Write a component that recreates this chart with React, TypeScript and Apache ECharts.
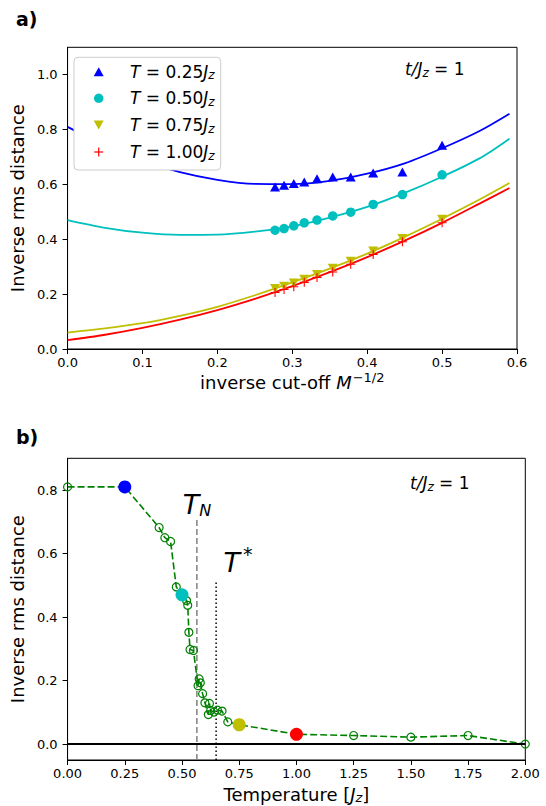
import React, { useEffect, useRef } from 'react';
import * as echarts from 'echarts';

// ---------- Panel a data ----------
const cutoffX = [0.277, 0.289, 0.302, 0.316, 0.333, 0.354, 0.378, 0.408, 0.447, 0.5];
const t025 = [0.591, 0.597, 0.603, 0.609, 0.621, 0.627, 0.627, 0.642, 0.645, 0.743];
const t050 = [0.433, 0.439, 0.449, 0.46, 0.47, 0.485, 0.499, 0.527, 0.563, 0.635];
const t075 = [0.221, 0.229, 0.241, 0.254, 0.272, 0.294, 0.32, 0.357, 0.403, 0.473];
const t100 = [0.206, 0.217, 0.227, 0.243, 0.261, 0.281, 0.309, 0.345, 0.391, 0.46];

const fitX = [0, 0.05, 0.1, 0.15, 0.2, 0.25, 0.3, 0.35, 0.4, 0.45, 0.5, 0.55, 0.59];
const fit025 = [0.81, 0.742, 0.687, 0.645, 0.617, 0.602, 0.601, 0.613, 0.639, 0.677, 0.732, 0.795, 0.858];
const fit050 = [0.47, 0.442, 0.424, 0.416, 0.417, 0.428, 0.447, 0.479, 0.518, 0.569, 0.628, 0.695, 0.767];
const fit075 = [0.06, 0.075, 0.094, 0.121, 0.154, 0.196, 0.243, 0.293, 0.348, 0.409, 0.475, 0.545, 0.605];
const fit100 = [0.032, 0.052, 0.077, 0.107, 0.142, 0.183, 0.229, 0.28, 0.335, 0.395, 0.46, 0.53, 0.587];

const aXTicks = [0, 0.1, 0.2, 0.3, 0.4, 0.5, 0.6];
const aYTicks = [0, 0.2, 0.4, 0.6, 0.8, 1.0];

// ---------- Panel b data ----------
const tempT = [0, 0.25, 0.4, 0.425, 0.45, 0.475, 0.5, 0.52, 0.525, 0.53, 0.535, 0.55, 0.57, 0.575, 0.58, 0.59, 0.6, 0.615, 0.62, 0.625, 0.64, 0.655, 0.675, 0.7, 0.75, 1.0, 1.25, 1.5, 1.75, 2.0];
const tempVal = [0.81, 0.81, 0.682, 0.65, 0.638, 0.495, 0.47, 0.452, 0.437, 0.352, 0.298, 0.295, 0.184, 0.205, 0.193, 0.159, 0.13, 0.093, 0.128, 0.106, 0.101, 0.107, 0.104, 0.07, 0.061, 0.031, 0.027, 0.022, 0.027, 0.0];
const highlightT = [0.25, 0.5, 0.75, 1.0];
const highlightVal = [0.81, 0.47, 0.061, 0.031];
const tN = 0.565;
const tNTop = 0.709;
const tStar = 0.649;
const tStarTop = 0.517;
const bXTicks = [0, 0.25, 0.5, 0.75, 1.0, 1.25, 1.5, 1.75, 2.0];
const bYTicks = [0, 0.2, 0.4, 0.6, 0.8];

const BLUE = '#0000ff';
const CYAN = '#00bfbf';
const YEL = '#bfbf00';
const RED = '#ff0000';
const GREEN = '#008000';
const FONT = 'DejaVu Sans';
const highlightColors = [BLUE, CYAN, YEL, RED];

const PLUS = 'path://M4.4,0H5.6V4.4H10V5.6H5.6V10H4.4V5.6H0V4.4H4.4Z';
const TRI_DOWN = 'path://M0,0L10,0L5,9Z';

const zip = (xs: number[], ys: number[]) => xs.map((x, i) => [x, ys[i]]);

const subRich = {
  i: { fontStyle: 'italic', fontFamily: FONT, fontSize: 17, color: '#000' },
  s: { fontStyle: 'italic', fontFamily: FONT, fontSize: 12, color: '#000', padding: [7, 0, 0, 0] },
  n: { fontFamily: FONT, fontSize: 17, color: '#000' },
};

function axisCommon(gridIndex: number) {
  return {
    gridIndex,
    type: 'value',
    splitLine: { show: false },
    axisLine: { show: true, onZero: false, lineStyle: { color: '#000', width: 1 } },
    axisTick: { show: true, inside: false, length: 5, lineStyle: { color: '#000', width: 1 } },
  };
}

function buildOption() {
  const legendRows = [
    { y: 71.7, label: '0.25' },
    { y: 98.3, label: '0.50' },
    { y: 125, label: '0.75' },
    { y: 152, label: '1.00' },
  ];
  const mx = 98.7;
  const graphic: any[] = [
    { type: 'text', style: { text: 'a)', x: 16, y: 19, verticalAlign: 'middle', fontSize: 19, fontWeight: 'bold', fontFamily: FONT, fill: '#000' } },
    { type: 'text', style: { text: 'b)', x: 16, y: 437, verticalAlign: 'middle', fontSize: 19, fontWeight: 'bold', fontFamily: FONT, fill: '#000' } },
    { type: 'text', style: { text: '{i|t/J}{s|z}{n| = 1}', x: 405, y: 69, verticalAlign: 'middle', rich: subRich } },
    { type: 'text', style: { text: '{i|t/J}{s|z}{n| = 1}', x: 410, y: 483, verticalAlign: 'middle', rich: subRich } },
    { type: 'rect', shape: { x: 74, y: 57.3, width: 146.7, height: 112.7, r: 4 }, style: { fill: '#ffffff', stroke: '#cccccc', lineWidth: 1 }, z: 50 },
    { type: 'polygon', shape: { points: [[mx - 5, legendRows[0].y + 4.5], [mx + 5, legendRows[0].y + 4.5], [mx, legendRows[0].y - 4.5]] }, style: { fill: BLUE }, z: 51 },
    { type: 'circle', shape: { cx: mx, cy: legendRows[1].y, r: 4.7 }, style: { fill: CYAN }, z: 51 },
    { type: 'polygon', shape: { points: [[mx - 5, legendRows[2].y - 4.5], [mx + 5, legendRows[2].y - 4.5], [mx, legendRows[2].y + 4.5]] }, style: { fill: YEL }, z: 51 },
    { type: 'line', shape: { x1: mx - 4.5, y1: legendRows[3].y, x2: mx + 4.5, y2: legendRows[3].y }, style: { stroke: RED, lineWidth: 1.2 }, z: 51 },
    { type: 'line', shape: { x1: mx, y1: legendRows[3].y - 4.5, x2: mx, y2: legendRows[3].y + 4.5 }, style: { stroke: RED, lineWidth: 1.2 }, z: 51 },
  ];
  legendRows.forEach((r) => {
    graphic.push({
      type: 'text',
      z: 51,
      style: { text: `{i|T}{n| = ${r.label}}{i|J}{s|z}`, x: 130, y: r.y, verticalAlign: 'middle', rich: subRich },
    });
  });

  const tickLabel = { fontFamily: FONT, fontSize: 13, color: '#000' };
  const nameStyle = { fontFamily: FONT, fontSize: 18, color: '#000' };

  return {
    animation: false,
    backgroundColor: '#fff',
    textStyle: { fontFamily: FONT },
    grid: [
      { left: 64.5, top: 47.3, width: 452.5, height: 301.7, show: true, borderColor: '#000', borderWidth: 1, containLabel: false },
      { left: 64, top: 458.3, width: 461.3, height: 301.7, show: true, borderColor: '#000', borderWidth: 1, containLabel: false },
    ],
    xAxis: [
      {
        ...axisCommon(0),
        min: 0, max: 0.6, interval: 0.1,
        axisLabel: { ...tickLabel, margin: 7, customValues: aXTicks, formatter: (v: number) => v.toFixed(1) },
        axisTick: { show: true, length: 5, lineStyle: { color: '#000' }, customValues: aXTicks },
        name: 'inverse cut-off {i|M}{sup|\u22121/2}',
        nameLocation: 'middle',
        nameGap: 22,
        nameTextStyle: { ...nameStyle, rich: { i: { ...nameStyle, fontStyle: 'italic' }, sup: { fontFamily: FONT, fontSize: 13, color: '#000', padding: [0, 0, 9, 1] } } },
      },
      {
        ...axisCommon(1),
        min: 0, max: 2, interval: 0.25,
        axisLabel: { ...tickLabel, margin: 7, customValues: bXTicks, formatter: (v: number) => v.toFixed(2) },
        axisTick: { show: true, length: 5, lineStyle: { color: '#000' }, customValues: bXTicks },
        name: 'Temperature [{i|J}{s|z}]',
        nameLocation: 'middle',
        nameGap: 24,
        nameTextStyle: { ...nameStyle, rich: { i: { ...nameStyle, fontStyle: 'italic' }, s: { fontFamily: FONT, fontSize: 13, fontStyle: 'italic', color: '#000', padding: [7, 0, 0, 0] } } },
      },
    ],
    yAxis: [
      {
        ...axisCommon(0),
        min: 0, max: 1.1, interval: 0.2,
        axisLabel: { ...tickLabel, margin: 10, customValues: aYTicks, formatter: (v: number) => v.toFixed(1) },
        axisTick: { show: true, length: 5, lineStyle: { color: '#000' }, customValues: aYTicks },
        name: 'Inverse rms distance',
        nameLocation: 'middle',
        nameGap: 36,
        nameTextStyle: nameStyle,
      },
      {
        ...axisCommon(1),
        min: -0.05, max: 0.9,
        axisLabel: { ...tickLabel, margin: 10, customValues: bYTicks, formatter: (v: number) => v.toFixed(1) },
        axisTick: { show: true, length: 5, lineStyle: { color: '#000' }, customValues: bYTicks },
        name: 'Inverse rms distance',
        nameLocation: 'middle',
        nameGap: 36,
        nameTextStyle: nameStyle,
      },
    ],
    graphic,
    series: [
      // fits
      { type: 'line', name: 'fit 0.25', xAxisIndex: 0, yAxisIndex: 0, data: zip(fitX, fit025), smooth: 0.3, showSymbol: false, lineStyle: { color: BLUE, width: 1.8 }, z: 2 },
      { type: 'line', name: 'fit 0.50', xAxisIndex: 0, yAxisIndex: 0, data: zip(fitX, fit050), smooth: 0.3, showSymbol: false, lineStyle: { color: CYAN, width: 1.8 }, z: 2 },
      { type: 'line', name: 'fit 0.75', xAxisIndex: 0, yAxisIndex: 0, data: zip(fitX, fit075), smooth: 0.3, showSymbol: false, lineStyle: { color: YEL, width: 1.8 }, z: 2 },
      { type: 'line', name: 'fit 1.00', xAxisIndex: 0, yAxisIndex: 0, data: zip(fitX, fit100), smooth: 0.3, showSymbol: false, lineStyle: { color: RED, width: 1.8 }, z: 2 },
      // data
      { type: 'scatter', name: 'T = 0.25Jz', xAxisIndex: 0, yAxisIndex: 0, data: zip(cutoffX, t025), symbol: 'triangle', symbolSize: [10, 9], itemStyle: { color: BLUE, opacity: 1 }, z: 3 },
      { type: 'scatter', name: 'T = 0.50Jz', xAxisIndex: 0, yAxisIndex: 0, data: zip(cutoffX, t050), symbol: 'circle', symbolSize: 9.5, itemStyle: { color: CYAN, opacity: 1 }, z: 3 },
      { type: 'scatter', name: 'T = 0.75Jz', xAxisIndex: 0, yAxisIndex: 0, data: zip(cutoffX, t075), symbol: TRI_DOWN, symbolSize: [10, 9], itemStyle: { color: YEL, opacity: 1 }, z: 3 },
      { type: 'scatter', name: 'T = 1.00Jz', xAxisIndex: 0, yAxisIndex: 0, data: zip(cutoffX, t100), symbol: PLUS, symbolSize: 9, itemStyle: { color: RED, opacity: 1 }, z: 3 },
      // panel b
      {
        type: 'line', name: 'inverse rms distance', xAxisIndex: 1, yAxisIndex: 1,
        data: zip(tempT, tempVal),
        symbol: 'circle', symbolSize: 8, showSymbol: true,
        lineStyle: { color: GREEN, width: 1.6, type: [7, 3] },
        itemStyle: { color: 'rgba(0,0,0,0)', borderColor: GREEN, borderWidth: 1.2 },
        z: 3,
        markLine: {
          silent: true, symbol: 'none', animation: false,
          lineStyle: { color: '#000', width: 2, type: 'solid' },
          label: { show: false },
          data: [{ yAxis: 0 }],
        },
      },
      {
        type: 'line', name: 'T_N', xAxisIndex: 1, yAxisIndex: 1,
        data: [
          [tN, -0.05],
          {
            value: [tN, tNTop],
            label: {
              show: true, position: 'top', distance: 0,
              formatter: '{t|T}{n|N}',
              rich: {
                t: { fontFamily: FONT, fontStyle: 'italic', fontSize: 27, color: '#000' },
                n: { fontFamily: FONT, fontStyle: 'italic', fontSize: 16, color: '#000', padding: [12, 0, 0, 0] },
              },
            },
          },
        ],
        symbol: 'circle', symbolSize: 0, showSymbol: true,
        lineStyle: { color: '#808080', width: 1.5, type: [6, 3] },
        z: 2,
      },
      {
        type: 'line', name: 'T*', xAxisIndex: 1, yAxisIndex: 1,
        data: [
          [tStar, -0.05],
          {
            value: [tStar, tStarTop],
            label: {
              show: true, position: 'top', distance: 0, offset: [22, 0],
              formatter: '{t|T}{n|*}',
              rich: {
                t: { fontFamily: FONT, fontStyle: 'italic', fontSize: 27, color: '#000' },
                n: { fontFamily: FONT, fontSize: 19, color: '#000', padding: [0, 0, 16, 3] },
              },
            },
          },
        ],
        symbol: 'circle', symbolSize: 0, showSymbol: true,
        lineStyle: { color: '#000', width: 1.5, type: [1.5, 2.5] },
        z: 2,
      },
      {
        type: 'scatter', name: 'highlighted temperatures', xAxisIndex: 1, yAxisIndex: 1,
        data: highlightT.map((t, i) => ({ value: [t, highlightVal[i]], itemStyle: { color: highlightColors[i], opacity: 1 } })),
        symbol: 'circle', symbolSize: 13,
        itemStyle: { opacity: 1 },
        z: 4,
      },
    ],
  };
}

export default function App() {
  const ref = useRef<HTMLDivElement>(null);
  useEffect(() => {
    if (!ref.current) return;
    const chart = echarts.init(ref.current, null, { renderer: 'svg' });
    chart.setOption(buildOption() as any);
    return () => chart.dispose();
  }, []);
  return (
    <div
      ref={ref}
      style={{ position: 'fixed', left: 0, top: 0, width: 546, height: 806, background: '#fff' }}
    />
  );
}
